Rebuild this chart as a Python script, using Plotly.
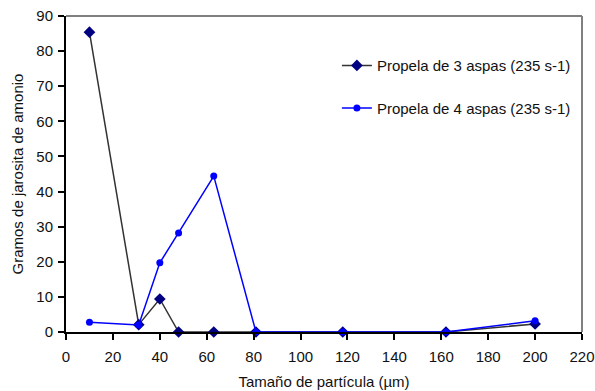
import plotly.graph_objects as go

x_3aspas = [10, 31, 40, 48, 63, 81, 118, 162, 200]
y_3aspas = [85.4, 2.1, 9.4, 0, 0, 0, 0, 0, 2.3]
x_4aspas = [10, 31, 40, 48, 63, 81, 118, 162, 200]
y_4aspas = [2.8, 2.0, 19.7, 28.2, 44.4, 0, 0, 0, 3.2]
name_3 = "Propela de 3 aspas (235 s-1)"
name_4 = "Propela de 4 aspas (235 s-1)"

FONT = "Liberation Sans, Arial, sans-serif"

fig = go.Figure()
fig.add_trace(go.Scatter(
    x=x_3aspas, y=y_3aspas, mode="lines+markers", name=name_3,
    line=dict(color="#333333", width=1.5),
    marker=dict(symbol="diamond", size=9, color="#000080"),
    legendgroup="a", cliponaxis=False,
))
fig.add_trace(go.Scatter(
    x=x_4aspas, y=y_4aspas, mode="lines+markers", name=name_4,
    line=dict(color="#0000FF", width=1.5),
    marker=dict(symbol="circle", size=7, color="#0000FF"),
    legendgroup="b", cliponaxis=False,
))

fig.update_layout(
    width=595, height=391,
    margin=dict(l=66, r=13, t=16, b=59),
    paper_bgcolor="white", plot_bgcolor="white",
    font=dict(family=FONT, size=15, color="#111111"),
    showlegend=True,
    legend=dict(x=0.525, y=0.895, xanchor="left", yanchor="top",
                bgcolor="rgba(0,0,0,0)", tracegroupgap=20,
                font=dict(size=15), itemwidth=30),
    xaxis=dict(range=[0, 220], dtick=20, tick0=0, showgrid=False, zeroline=False,
               showline=True, linecolor="black", linewidth=2,
               ticks="outside", ticklen=6, tickwidth=2, tickcolor="black",
               ticklabelstandoff=4, automargin=False, ticklabeloverflow="allow",
               title=dict(text="Tamaño de partícula (µm)", standoff=12, font=dict(size=15))),
    yaxis=dict(range=[0, 90], dtick=10, tick0=0, showgrid=False, zeroline=False,
               showline=True, linecolor="black", linewidth=2,
               ticks="outside", ticklen=6, tickwidth=2, tickcolor="black",
               ticklabelstandoff=2, automargin=False, ticklabeloverflow="allow",
               title=dict(text="Gramos de jarosita de amonio", standoff=9, font=dict(size=15))),
    shapes=[
        dict(type="line", xref="paper", yref="paper", x0=0, x1=1, y0=1, y1=1,
             line=dict(color="#808080", width=2)),
        dict(type="line", xref="paper", yref="paper", x0=1, x1=1, y0=0, y1=1,
             line=dict(color="#808080", width=2)),
    ],
)

# remove the default page margin so the figure fills the 595x391 window exactly
fig.write_html("out.html",
               config={"displayModeBar": False},
               post_script="document.body.style.margin='0';document.body.style.overflow='hidden';")
